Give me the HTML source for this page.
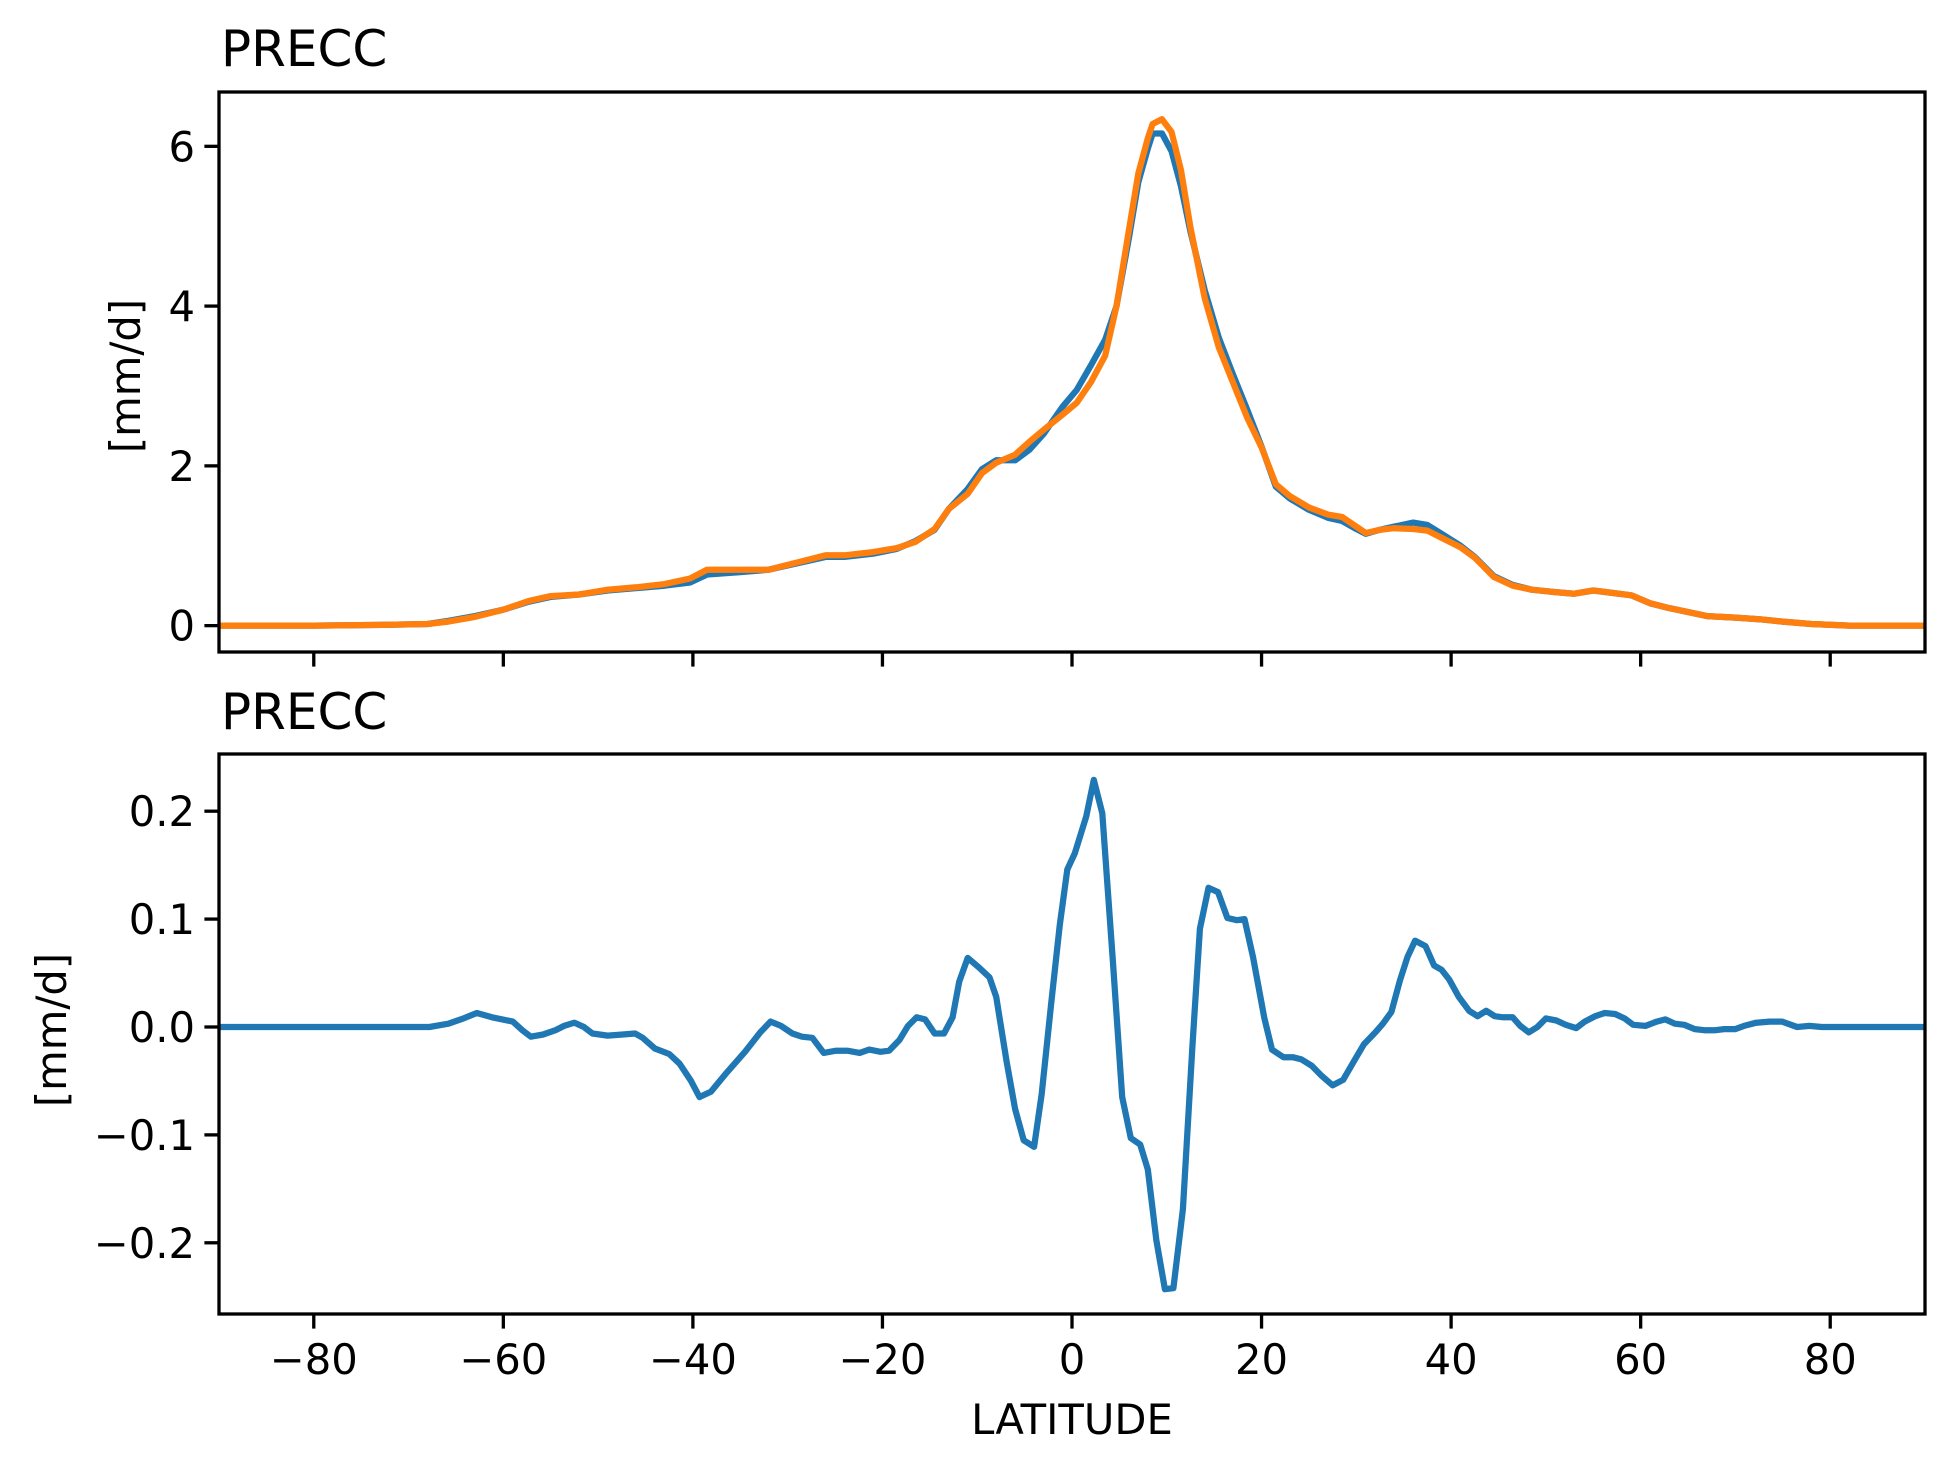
<!DOCTYPE html>
<html><head><meta charset="utf-8"><style>
html,body{margin:0;padding:0;background:#fff;}
svg{display:block;font-family:"DejaVu Sans","Liberation Sans",sans-serif;}
</style></head><body>
<svg id="chart" width="1954" height="1474" viewBox="0 0 1954 1474" xmlns="http://www.w3.org/2000/svg">
<rect width="1954" height="1474" fill="#fff"/>
<text x="221" y="66" font-size="50">PRECC</text>
<text x="221" y="729" font-size="50">PRECC</text>
<text transform="translate(140,376) rotate(-90)" text-anchor="middle" font-size="41.7">[mm/d]</text>
<text transform="translate(66,1030) rotate(-90)" text-anchor="middle" font-size="41.7">[mm/d]</text>
<text x="1072" y="1434" text-anchor="middle" font-size="41.7">LATITUDE</text>
<g id="top"></g>
<g id="bot"></g>
</svg>
<script>
const latTop = [-90,-80,-72,-68,-65.8,-63,-60,-57.3,-55,-52,-49,-46,-43,-40.3,-38.5,-35,-32,-29,-26,-24,-21,-18.5,-16.5,-14.5,-13,-11,-9.5,-8,-6,-4.5,-3,-1,0.5,2,3.5,4.7,6,7,8,8.5,9.5,10.5,11.5,12.5,14,15.5,17,18.5,20,21.5,23,25,27,28.5,30,31,32.5,34,36,37.5,39,41,42.5,44.5,46.5,48.5,51,53,55,57,59,61,63,65,67,70,72.5,75,78,82,90];
const blueTop = [0,0,0.01,0.02,0.06,0.12,0.2,0.3,0.36,0.39,0.44,0.47,0.5,0.54,0.64,0.67,0.7,0.78,0.86,0.86,0.9,0.96,1.06,1.2,1.46,1.71,1.96,2.07,2.07,2.2,2.4,2.74,2.95,3.26,3.58,4.0,4.85,5.55,5.97,6.16,6.16,5.94,5.5,4.93,4.2,3.6,3.14,2.7,2.24,1.74,1.59,1.45,1.35,1.31,1.21,1.15,1.2,1.24,1.29,1.26,1.15,1.0,0.86,0.62,0.51,0.45,0.42,0.4,0.44,0.41,0.38,0.28,0.22,0.17,0.12,0.1,0.08,0.05,0.02,0,0];
const orangeTop = [0,0,0.01,0.02,0.05,0.11,0.2,0.31,0.37,0.39,0.45,0.48,0.52,0.59,0.7,0.7,0.7,0.79,0.88,0.88,0.92,0.97,1.05,1.21,1.46,1.65,1.91,2.04,2.14,2.3,2.45,2.64,2.79,3.05,3.38,4.0,4.95,5.66,6.1,6.28,6.34,6.18,5.7,4.98,4.1,3.48,3.04,2.6,2.23,1.77,1.62,1.48,1.39,1.36,1.24,1.16,1.2,1.22,1.21,1.19,1.1,0.98,0.85,0.61,0.5,0.45,0.42,0.4,0.44,0.41,0.38,0.28,0.22,0.17,0.12,0.1,0.08,0.05,0.02,0,0];
const latDiff = [-90,-73.7,-67.8,-65.8,-64.2,-62.8,-61.2,-59,-58,-57.1,-55.8,-54.5,-53.6,-52.5,-51.5,-50.6,-49,-47.4,-46.1,-45.3,-44,-42.5,-41.4,-40.2,-39.3,-38.1,-36.4,-34.5,-32.9,-31.8,-30.7,-29.5,-28.5,-27.4,-26.2,-24.9,-23.7,-22.4,-21.4,-20.2,-19.3,-18.2,-17.3,-16.4,-15.5,-14.5,-13.5,-12.6,-11.9,-11,-9.8,-8.7,-8,-6.9,-6,-5.1,-4,-3.2,-2.2,-1.3,-0.5,0.3,1.5,2.3,3.2,4.3,5.3,6.2,7.2,8,8.9,9.8,10.7,11.7,12.7,13.5,14.4,15.4,16.4,17.4,18.2,19.1,20.3,21.1,22.3,23.3,24.2,25.3,26.3,27.5,28.6,29.8,30.8,32,32.8,33.7,34.6,35.4,36.2,37.3,38.2,39,39.8,40.8,41.9,42.8,43.7,44.6,45.5,46.5,47.3,48.2,49.1,50,51.1,52.1,53.2,54.1,55.2,56.2,57.3,58.3,59.2,60.5,61.7,62.6,63.6,64.6,65.7,66.7,67.9,68.8,70,70.9,72.2,73.6,74.9,76.5,77.8,79.1,81.4,90];
const diffVals = [0,0,0,0.003,0.008,0.013,0.009,0.005,-0.003,-0.009,-0.007,-0.003,0.001,0.004,0,-0.006,-0.008,-0.007,-0.006,-0.01,-0.02,-0.025,-0.034,-0.05,-0.065,-0.06,-0.042,-0.023,-0.005,0.005,0.001,-0.006,-0.009,-0.01,-0.024,-0.022,-0.022,-0.024,-0.021,-0.023,-0.022,-0.012,0.001,0.009,0.007,-0.006,-0.006,0.009,0.042,0.064,0.055,0.046,0.028,-0.032,-0.076,-0.105,-0.111,-0.062,0.021,0.094,0.146,0.161,0.195,0.229,0.198,0.062,-0.065,-0.103,-0.109,-0.132,-0.198,-0.243,-0.242,-0.169,-0.018,0.091,0.129,0.125,0.101,0.099,0.1,0.065,0.008,-0.021,-0.028,-0.028,-0.03,-0.036,-0.045,-0.054,-0.049,-0.031,-0.016,-0.005,0.003,0.014,0.043,0.065,0.08,0.075,0.057,0.053,0.044,0.028,0.015,0.01,0.015,0.01,0.009,0.009,0.001,-0.005,0,0.008,0.006,0.002,-0.001,0.005,0.01,0.013,0.012,0.008,0.002,0.001,0.005,0.007,0.003,0.002,-0.002,-0.003,-0.003,-0.002,-0.002,0.001,0.004,0.005,0.005,0,0.001,0,0,0];
const xTicks = [-80,-60,-40,-20,0,20,40,60,80];
const topTicks = [0,2,4,6];
const diffTicks = [-0.2,-0.1,0.0,0.1,0.2];

const X0=219, X1=1925;
const xS = v => X0 + (v+90)/180*(X1-X0);
const topP = {y0:92, y1:652, min:-0.33, max:6.68};
const botP = {y0:754, y1:1314, min:-0.266, max:0.253};
const yS = (p,v) => p.y1 - (v-p.min)/(p.max-p.min)*(p.y1-p.y0);
const NS="http://www.w3.org/2000/svg";
function mk(parent, tag, attrs){const e=document.createElementNS(NS,tag);for(const k in attrs)e.setAttribute(k,attrs[k]);parent.appendChild(e);return e;}
function fmt(v){const s=(Math.abs(v)<1e-9?0:v); return (s<0?"\u2212":"")+Math.abs(s).toString();}

function panel(g, p, yt, yfmt, showX){
  const clipId = g.id+"-clip";
  const cp = mk(g,"clipPath",{id:clipId});
  mk(cp,"rect",{x:X0,y:p.y0,width:X1-X0,height:p.y1-p.y0});
  const lines = mk(g,"g",{"clip-path":"url(#"+clipId+")"});
  for(const v of yt){
    const y=yS(p,v);
    const t=mk(g,"line",{x1:X0-14.6,x2:X0,y1:y,y2:y,stroke:"#000","stroke-width":3.3});
    
    
    const l=mk(g,"text",{x:X0-24,y:y+15,"text-anchor":"end","font-size":41.7});
    
    
    l.textContent=yfmt(v);
  }
  for(const v of xTicks){
    const x=xS(v);
    const t=mk(g,"line",{x1:x,x2:x,y1:p.y1,y2:p.y1+14.6,stroke:"#000","stroke-width":3.3});
    
    
    if(showX){
      const l=mk(g,"text",{x:x,y:p.y1+60,"text-anchor":"middle","font-size":41.7});
      
      
      l.textContent=fmt(v);
    }
  }
  return lines;
}
function series(g,p,lats,vals,color,name){
  const d=lats.map((la,i)=>(i?"L":"M")+xS(la).toFixed(1)+","+yS(p,vals[i]).toFixed(1)).join(" ");
  const path=mk(g,"path",{d:d,fill:"none",stroke:color,"stroke-width":6.25,"stroke-linejoin":"round","stroke-linecap":"square"});
  
  
}
function frame(g,p,name){
  const r=mk(g,"rect",{x:X0,y:p.y0,width:X1-X0,height:p.y1-p.y0,fill:"none",stroke:"#000","stroke-width":3.3});
  
  
}
const gt=document.getElementById("top"), gb=document.getElementById("bot");
const lt=panel(gt,topP,topTicks,v=>fmt(v),false);
series(lt,topP,latTop,blueTop,"#1f77b4","blue-series-line");
series(lt,topP,latTop,orangeTop,"#ff7f0e","orange-series-line");
frame(gt,topP,"top-axes-frame");
const lb=panel(gb,botP,diffTicks,v=>fmt(Number(v.toFixed(1))).replace(/^(\u2212?\d)$/,"$1.0"),true);
series(lb,botP,latDiff,diffVals,"#1f77b4","difference-series-line");
frame(gb,botP,"bottom-axes-frame");
</script>
</body></html>
